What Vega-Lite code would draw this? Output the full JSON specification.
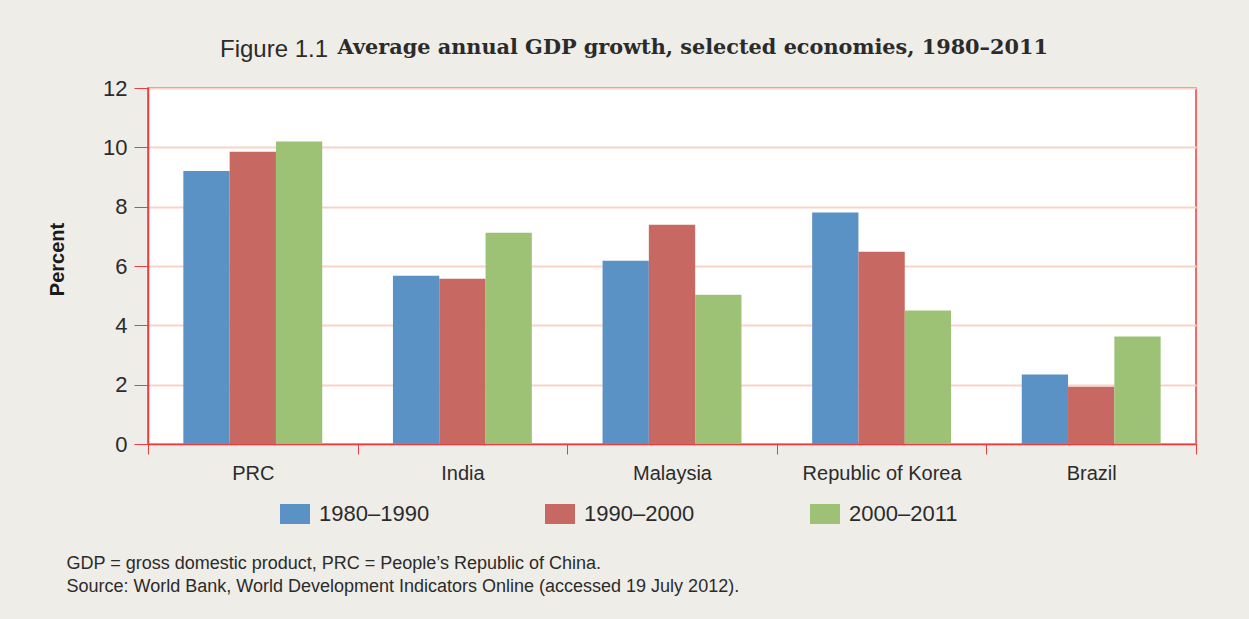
{
  "$schema": "https://vega.github.io/schema/vega-lite/v6.json",
  "width": 1048,
  "height": 356,
  "autosize": "none",
  "padding": {"left": 148, "top": 88, "right": 53, "bottom": 175},
  "background": "#efede8",
  "title": {
    "text": "Figure 1.1",
    "subtitle": "\u2800\u00a0\u00a0\u00a0\u00a0\u00a0\u00a0\u00a0\u00a0\u00a0\u00a0\u00a0\u00a0\u00a0\u00a0Average annual GDP growth, selected economies, 1980–2011",
    "anchor": "start",
    "frame": "group",
    "dx": 72,
    "font": "Liberation Sans",
    "fontSize": 24,
    "fontWeight": "normal",
    "color": "#2b2b2b",
    "subtitleFont": "DejaVu Serif",
    "subtitleFontSize": 20.8,
    "subtitleFontWeight": "bold",
    "subtitleColor": "#2b2b2b",
    "subtitlePadding": -24,
    "offset": 14
  },
  "data": {
    "values": [
      {"country": "PRC", "period": "1980–1990", "growth": 9.2},
      {"country": "PRC", "period": "1990–2000", "growth": 9.85},
      {"country": "PRC", "period": "2000–2011", "growth": 10.2},
      {"country": "India", "period": "1980–1990", "growth": 5.67},
      {"country": "India", "period": "1990–2000", "growth": 5.57},
      {"country": "India", "period": "2000–2011", "growth": 7.12},
      {"country": "Malaysia", "period": "1980–1990", "growth": 6.18},
      {"country": "Malaysia", "period": "1990–2000", "growth": 7.39},
      {"country": "Malaysia", "period": "2000–2011", "growth": 5.03},
      {"country": "Republic of Korea", "period": "1980–1990", "growth": 7.8},
      {"country": "Republic of Korea", "period": "1990–2000", "growth": 6.48},
      {"country": "Republic of Korea", "period": "2000–2011", "growth": 4.5},
      {"country": "Brazil", "period": "1980–1990", "growth": 2.34},
      {"country": "Brazil", "period": "1990–2000", "growth": 1.93},
      {"country": "Brazil", "period": "2000–2011", "growth": 3.62}
    ]
  },
  "mark": {"type": "bar"},
  "encoding": {
    "x": {
      "field": "country",
      "type": "nominal",
      "sort": null,
      "scale": {"paddingInner": 0, "paddingOuter": 0},
      "axis": {
        "title": ["GDP = gross domestic product, PRC = People’s Republic of China.", "Source: World Bank, World Development Indicators Online (accessed 19 July 2012)."],
        "titleFont": "Liberation Sans",
        "titleFontSize": 18,
        "titleFontWeight": "normal",
        "titleColor": "#2b2b2b",
        "titleAlign": "left",
        "titleAnchor": "start",
        "titleBaseline": "alphabetic",
        "titleX": -82,
        "titleY": 124,
        "titleLineHeight": 23,
        "labelAngle": 0,
        "labelFont": "Liberation Sans",
        "labelFontSize": 20,
        "labelColor": "#2b2b2b",
        "labelPadding": 9,
        "tickBand": "extent",
        "tickSize": 10,
        "tickColor": "#ee3d42",
        "domainColor": "#ee3d42",
        "domainWidth": 1.5
      }
    },
    "xOffset": {"field": "period", "type": "nominal", "scale": {"paddingInner": 0, "paddingOuter": 0.7635}},
    "y": {
      "field": "growth",
      "type": "quantitative",
      "scale": {"domain": [0, 12]},
      "axis": {
        "title": "Percent",
        "titleFont": "Liberation Sans",
        "titleFontSize": 20,
        "titleFontWeight": "bold",
        "titleColor": "#1a1a1a",
        "titlePadding": 35,
        "titleY": 171,
        "values": [0, 2, 4, 6, 8, 10, 12],
        "labelFont": "Liberation Sans",
        "labelFontSize": 22,
        "labelColor": "#2b2b2b",
        "labelPadding": 7,
        "tickSize": 14,
        "tickColor": "#ee3d42",
        "domainColor": "#ee3d42",
        "domainWidth": 1.5,
        "grid": true,
        "gridColor": "#f9d3c7",
        "gridWidth": 1.8
      }
    },
    "color": {
      "field": "period",
      "type": "nominal",
      "scale": {"range": ["#5b92c6", "#c76862", "#9dc276"]},
      "legend": {
        "title": null,
        "orient": "none",
        "direction": "horizontal",
        "legendX": 136,
        "legendY": 415,
        "symbolType": "M-1.5,-1H1.5V1H-1.5Z",
        "symbolSize": 400,
        "symbolStrokeWidth": 0,
        "symbolOpacity": 1,
        "labelFont": "Liberation Sans",
        "labelFontSize": 22,
        "labelColor": "#2b2b2b",
        "labelOffset": 13,
        "columnPadding": 115,
        "gridAlign": "all"
      }
    }
  },
  "config": {
    "view": {"fill": "white", "stroke": "#ee3d42", "strokeWidth": 1.5},
    "axis": {"domainCap": "square"}
  }
}
